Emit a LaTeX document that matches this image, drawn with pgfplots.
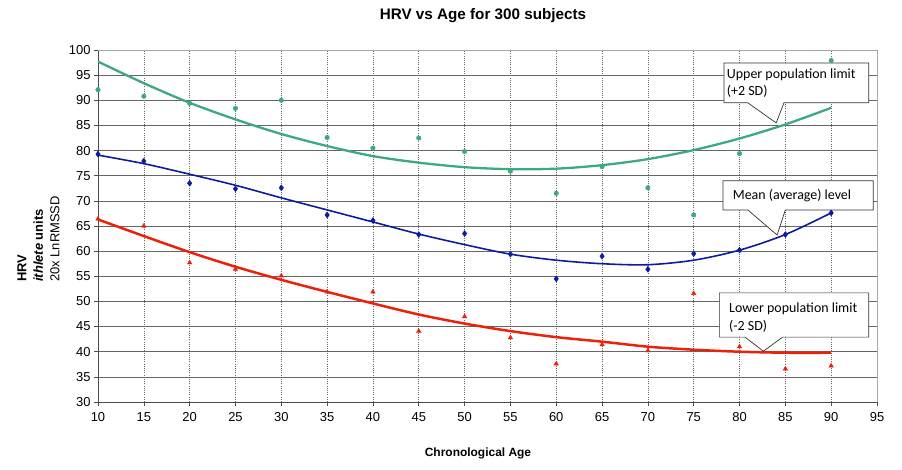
\documentclass[border=0pt]{standalone}
\usepackage{pgfplots}
\pgfplotsset{compat=1.18}
\usepackage{fontspec}
\setmainfont{Liberation Sans}
\newfontfamily\callfont{Carlito}

\definecolor{upcol}{RGB}{60,170,125}
\definecolor{meancol}{RGB}{12,28,160}
\definecolor{lowcol}{RGB}{238,32,10}

\begin{document}
\begin{tikzpicture}
\path[use as bounding box] (-98bp,-68bp) rectangle (804bp,402bp);
\begin{axis}[
    at={(0,0)}, anchor=south west,
    scale only axis,
    width=779bp, height=352bp,
    xmin=10, xmax=95, ymin=30, ymax=100,
    xtick distance=5, ytick distance=5,
    axis x line*=bottom, axis y line*=left,
    axis line style={black!70, line width=1pt, -},
    tick align=outside, major tick length=4bp,
    tick style={black!70, line width=0.6pt},
    grid=major,
    x grid style={dash pattern=on 1bp off 1.2bp, black!60, line width=0.6bp},
    y grid style={black!60, line width=0.7bp},
    tick label style={font=\fontsize{13}{15}\selectfont},
    xticklabel style={yshift=-3bp},
    /pgf/number format/assume math mode=true,
    clip=false,
]
% upper population limit (+2 SD)
\addplot[only marks, mark=*, mark size=2.3pt, color=upcol] coordinates {
    (10,92.1) (15,90.8) (20,89.4) (25,88.4) (30,90.0) (35,82.6) (40,80.5)
    (45,82.5) (50,79.8) (55,75.9) (60,71.5) (65,76.8) (70,72.6) (75,67.2)
    (80,79.4) (90,97.9)};
\addplot[smooth, color=upcol, line width=2.3pt] coordinates {
    (10,97.7) (15,93.4) (20,89.5) (25,86.2) (30,83.3) (35,80.9) (40,78.9)
    (45,77.6) (50,76.7) (55,76.3) (60,76.4) (65,77.1) (70,78.3) (75,80.1)
    (80,82.4) (85,85.2) (90,88.5)};
% mean level
\addplot[only marks, mark=diamond*, mark size=3pt, color=meancol] coordinates {
    (10,79.3) (15,77.9) (20,73.5) (25,72.4) (30,72.6) (35,67.2) (40,66.1)
    (45,63.3) (50,63.5) (55,59.4) (60,54.5) (65,59.0) (70,56.4) (75,59.5)
    (80,60.2) (85,63.3) (90,67.6)};
\addplot[smooth, color=meancol, line width=1.6pt] coordinates {
    (10,79.1) (15,77.4) (20,75.3) (25,73.1) (30,70.6) (35,68.2) (40,65.8)
    (45,63.4) (50,61.3) (55,59.4) (60,58.2) (65,57.5) (70,57.3) (75,58.2)
    (80,60.2) (85,63.3) (90,67.6)};
% lower population limit (-2 SD)
\addplot[only marks, mark=triangle*, mark size=2.6pt, color=lowcol] coordinates {
    (10,66.4) (15,65.0) (20,57.7) (25,56.4) (30,55.1) (35,51.9) (40,51.9)
    (45,44.1) (50,47.0) (55,42.8) (60,37.6) (65,41.4) (70,40.2) (75,51.6)
    (80,41.0) (85,36.6) (90,37.2)};
\addplot[smooth, color=lowcol, line width=2.5pt] coordinates {
    (10,66.3) (15,63.0) (20,59.8) (25,56.9) (30,54.3) (35,51.9) (40,49.6)
    (45,47.4) (50,45.6) (55,44.1) (60,42.9) (65,42.0) (70,41.0) (75,40.4)
    (80,40.0) (85,39.8) (90,39.8)};

% top and right border
\draw[black!35, line width=0.8pt] (axis cs:10,100) -- (axis cs:95,100) -- (axis cs:95,30);

% callouts
\draw[black!80, fill=white, line width=0.7pt]
    (axis cs:78.3,97.4) -- (axis cs:94.1,97.4) -- (axis cs:94.1,89.5) -- (axis cs:84.85,89.5)
    -- (axis cs:84.0,85.5) -- (axis cs:80.9,89.5) -- (axis cs:78.3,89.5) -- cycle;
\node[anchor=base west, inner sep=0pt, font=\callfont\fontsize{14}{17}\selectfont]
    at (axis cs:78.6,94.4) {Upper population limit};
\node[anchor=base west, inner sep=0pt, font=\callfont\fontsize{14}{17}\selectfont]
    at (axis cs:78.6,90.95) {(+2 SD)};

\draw[black!80, fill=white, line width=0.7pt]
    (axis cs:78.2,74.0) -- (axis cs:94.6,74.0) -- (axis cs:94.6,68.2) -- (axis cs:85.0,68.2)
    -- (axis cs:84.1,63.2) -- (axis cs:80.9,68.2) -- (axis cs:78.2,68.2) -- cycle;
\node[anchor=base west, inner sep=0pt, font=\callfont\fontsize{14}{17}\selectfont]
    at (axis cs:79.25,70.3) {Mean (average) level};

\draw[black!80, fill=white, line width=0.7pt]
    (axis cs:77.8,51.7) -- (axis cs:94.1,51.7) -- (axis cs:94.1,42.9) -- (axis cs:84.7,42.9)
    -- (axis cs:82.6,40.1) -- (axis cs:80.6,42.9) -- (axis cs:77.8,42.9) -- cycle;
\node[anchor=base west, inner sep=0pt, font=\callfont\fontsize{14}{17}\selectfont]
    at (axis cs:78.85,47.7) {Lower population limit};
\node[anchor=base west, inner sep=0pt, font=\callfont\fontsize{14}{17}\selectfont]
    at (axis cs:78.85,44.2) {(-2 SD)};
\end{axis}

% title and axis labels
\node[font=\bfseries\fontsize{15.3}{18}\selectfont] at (385bp,386bp) {HRV vs Age for 300 subjects};
\node[font=\bfseries\fontsize{12}{14}\selectfont] at (380bp,-51bp) {Chronological Age};
\node[rotate=90, anchor=west, inner sep=0pt, align=left, font=\fontsize{13}{16.5}\selectfont]
    at (-59.5bp,120bp)
    {\textbf{HRV}\\\textbf{\textit{ithlete}} \textbf{units}\\20x LnRMSSD};
\end{tikzpicture}
\end{document}
